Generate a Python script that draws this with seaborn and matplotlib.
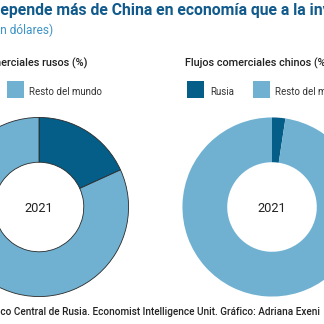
import matplotlib
matplotlib.use("Agg")
import matplotlib.pyplot as plt
import seaborn as sns
from matplotlib.patches import Rectangle
from matplotlib import font_manager
from matplotlib.font_manager import FontProperties

# ---------------- data ----------------
title = "Rusia depende más de China en economía que a la inversa"
subtitle = "(Comercio total en dólares)"
panel_titles = ["Flujos comerciales rusos (%)", "Flujos comerciales chinos (%)"]
legend_left = ["China", "Resto del mundo"]
legend_right = ["Rusia", "Resto del mundo"]
left_values = [18.2, 81.8]     # Rusia: China vs resto del mundo
right_values = [2.4, 97.6]     # China: Rusia vs resto del mundo
year_label = "2021"
source = "Fuente: Banco Central de Rusia. Economist Intelligence Unit. Gráfico: Adriana Exeni"

DARK = "#045E87"
LIGHT = "#70B1D2"

sns.set_theme(style="white")
names = {f.name for f in font_manager.fontManager.ttflist}
SANS = "Roboto" if "Roboto" in names else "DejaVu Sans"
plt.rcParams["font.family"] = [SANS, "DejaVu Sans"]

W = H = 324
DPI = 100
fig = plt.figure(figsize=(W / DPI, H / DPI), dpi=DPI)
fig.patch.set_facecolor("white")
renderer = fig.canvas.get_renderer()


def sized(fp, size):
    p = fp.copy()
    p.set_size(size)
    return p


def text_w(s, fp):
    t = fig.text(0, 0, s, fontproperties=fp)
    w = t.get_window_extent(renderer).width
    t.remove()
    return w


def fit(s, target, fp, k=1.0):
    return sized(fp, k * 10 * target / text_w(s, sized(fp, 10)))


# ---------------- donuts ----------------
R = 90
for (cx, cy), vals, lw in [((39, 207), left_values, 0.6), ((272, 207), right_values, 0)]:
    ax = fig.add_axes([(cx - R) / W, 1 - (cy + R) / H, 2 * R / W, 2 * R / H])
    ax.pie(vals, colors=[DARK, LIGHT], startangle=90, counterclock=False,
           wedgeprops=dict(width=0.5, edgecolor="#2a2a2a" if lw else "none", linewidth=lw))
    ax.set_xlim(-1.005, 1.005)
    ax.set_ylim(-1.005, 1.005)
    ax.set_aspect("equal")
    ax.axis("off")

# ---------------- overlay for text ----------------
ov = fig.add_axes([0, 0, 1, 1], zorder=5)
ov.set_xlim(0, W)
ov.set_ylim(H, 0)
ov.axis("off")
ov.patch.set_alpha(0)

FP_BOLD = FontProperties(family=[SANS, "DejaVu Sans"], weight="bold")
FP_SUB = FontProperties(family=[SANS, "DejaVu Sans"])
FP_MED = FontProperties(family=[SANS, "DejaVu Sans"], weight="medium")
FP_REG = FontProperties(family=[SANS, "DejaVu Sans"])

# title
fp_t = fit("epende más de China en economía que a la i", 316, FP_BOLD)
pre = text_w("Rusia d", fp_t)
ov.text(-pre, 15, title, fontproperties=fp_t, color="#115A8C", va="baseline", ha="left")

# subtitle
fp_s = fit("n dólares)", 53, FP_SUB)
ov.text(53, 34, subtitle, fontproperties=fp_s, color="#3D93C6", va="baseline", ha="right")

# panel titles
fp_h = fit("Flujos comerciales chinos (%)", 140, FP_MED, 1.03)
ov.text(87, 66, panel_titles[0], fontproperties=fp_h, color="#222222", va="baseline", ha="right")
ov.text(185, 66, panel_titles[1], fontproperties=fp_h, color="#222222", va="baseline", ha="left")

# legends
fp_l = fit("Resto del mundo", 68, FP_REG, 1.08)
for (bx, tx, lab, col) in [(-59, -36, legend_left[0], DARK), (7, 29, legend_left[1], LIGHT),
                           (187, 210, legend_right[0], DARK), (253, 275, legend_right[1], LIGHT)]:
    ov.add_patch(Rectangle((bx, 81), 16.5, 16.5, facecolor=col, edgecolor="none"))
    ov.text(tx, 95, lab, fontproperties=fp_l, color="#333333", va="baseline", ha="left")

# year labels
fp_y = fit(year_label, 22, FP_REG, 1.3)
for cx in (39, 272):
    ov.text(cx, 211.5, year_label, fontproperties=fp_y, color="#222222", va="baseline", ha="center")

# source
fp_src = fit("co Central de Rusia. Economist Intelligence Unit. Gráfico: Adriana Exeni", 320, FP_MED)
ov.text(320, 315, source, fontproperties=fp_src, color="#222222", va="baseline", ha="right")

fig.savefig("out.png", dpi=DPI, facecolor="white")
